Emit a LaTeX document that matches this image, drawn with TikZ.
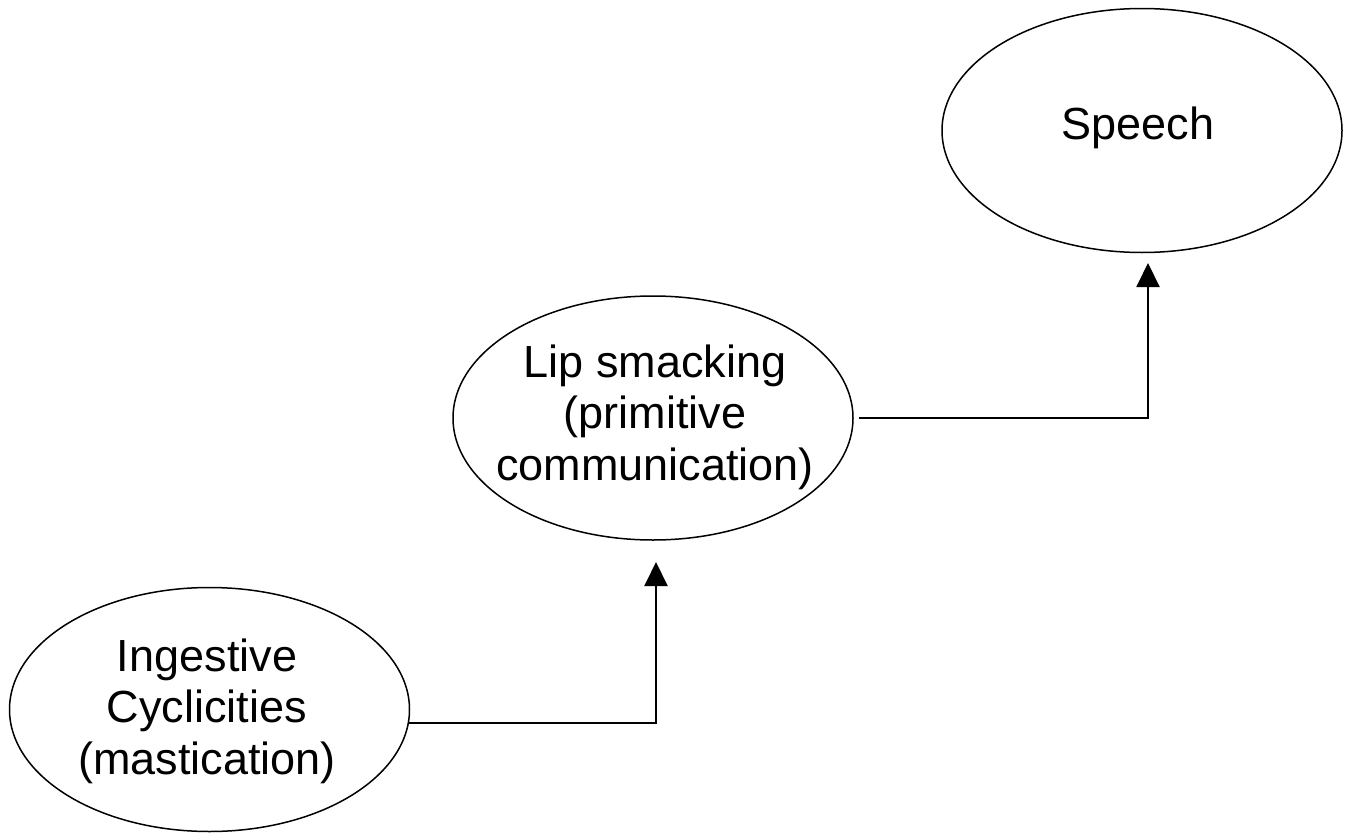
\documentclass[tikz,border=0pt]{standalone}
\usepackage{fontspec}
\setmainfont{Liberation Sans}
\usetikzlibrary{shapes.geometric,arrows.meta}
\begin{document}
\begin{tikzpicture}[x=1pt,y=-1pt,
  oval/.style={ellipse,draw=black,line width=1.5pt,minimum width=400pt,minimum height=244pt,inner sep=0pt},
  lbl/.style={align=center,inner sep=0pt,font=\fontsize{45}{51.5}\selectfont},
  conn/.style={line width=2pt,-{Triangle[length=24pt,width=23pt]}}]
\useasboundingbox (0,0) rectangle (1355,835);
\node[oval] (ing) at (209.5,709.5) {};
\node[oval] (lip) at (653,418) {};
\node[oval] (sp) at (1142,130.5) {};
\node[lbl] (ingt) at (207,711) {Ingestive\\Cyclicities\\(mastication)};
\node[lbl] (lipt) at (655,417) {Lip smacking\\(primitive\\communication)};
\node[lbl] (spt) at (1138,128) {Speech};
\coordinate (a1) at (656,562);
\coordinate (a2) at (1148,263);
\draw[conn] (ing.-4) -- (ing.-4 -| a1) -- (a1);
\draw[conn] ([xshift=5pt]lip.east) -- (lip.east -| a2) -- (a2);
\end{tikzpicture}
\end{document}
